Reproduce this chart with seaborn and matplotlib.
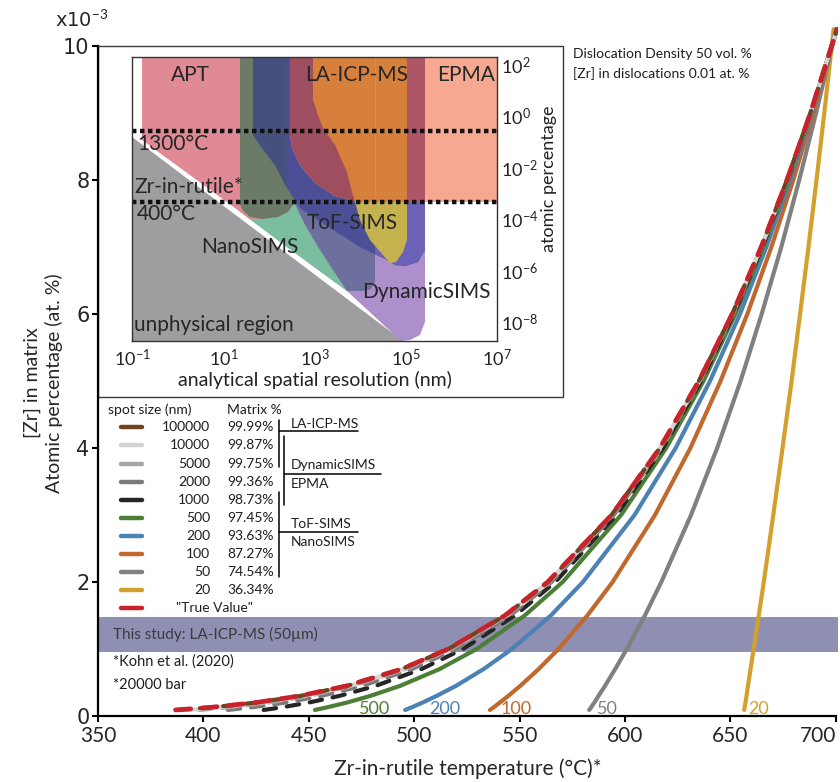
import numpy as np
import pandas as pd
import matplotlib
matplotlib.use("Agg")
import matplotlib.pyplot as plt
import seaborn as sns
from matplotlib.patches import Rectangle

sns.set_style("ticks")
plt.rcParams["font.family"] = ["Lato", "DejaVu Sans"]
plt.rcParams["mathtext.fontset"] = "custom"
plt.rcParams["mathtext.rm"] = "Lato"
plt.rcParams["mathtext.it"] = "Lato:italic"
plt.rcParams["mathtext.bf"] = "Lato:bold"

# ---------------- main chart data ----------------
zr_levels = [0.09, 0.13, 0.2, 0.3, 0.45, 0.7, 1.0, 1.5, 2.0, 3.0, 4.0, 5.0, 6.0, 7.0, 8.0, 9.0, 10.25]
t_100000 = [387.3, 404.1, 425.0, 446.0, 468.2, 494.0, 516.2, 543.1, 563.4, 593.6, 616.5, 635.0, 650.8, 664.6, 676.8, 687.9, 700.5]
t_10000 = [392.9, 408.2, 427.8, 447.9, 469.5, 494.9, 516.9, 543.5, 563.7, 593.8, 616.6, 635.2, 650.9, 664.6, 676.9, 688.0, 700.5]
t_5000 = [397.9, 412.1, 430.6, 449.8, 470.9, 495.8, 517.5, 544.0, 564.0, 594.0, 616.8, 635.3, 651.0, 664.7, 676.9, 688.0, 700.5]
t_2000 = [411.6, 423.0, 438.7, 455.9, 475.2, 498.8, 519.7, 545.5, 565.1, 594.7, 617.2, 635.6, 651.2, 664.8, 677.0, 688.0, 700.5]
t_1000 = [428.6, 437.2, 449.9, 464.5, 481.7, 503.4, 523.1, 547.8, 566.9, 595.9, 618.0, 636.1, 651.6, 665.1, 677.1, 688.1, 700.5]
t_500 = [452.9, 458.7, 468.0, 479.2, 493.3, 512.0, 529.6, 552.4, 570.4, 598.1, 619.5, 637.2, 652.3, 665.6, 677.4, 688.2, 700.5]
t_200 = [495.7, 498.8, 503.9, 510.6, 519.8, 532.9, 546.3, 564.8, 580.0, 604.5, 624.0, 640.3, 654.5, 667.0, 678.3, 688.6, 700.4]
t_100 = [535.9, 537.7, 540.6, 544.6, 550.3, 559.0, 568.4, 582.1, 594.1, 614.2, 631.0, 645.3, 658.0, 669.4, 679.8, 689.3, 700.3]
t_50 = [583.0, 583.9, 585.4, 587.4, 590.5, 595.3, 600.8, 609.4, 617.2, 631.3, 643.7, 654.8, 664.8, 674.1, 682.6, 690.6, 700.1]
t_20 = [656.5, 656.7, 657.1, 657.6, 658.3, 659.5, 661.0, 663.4, 665.8, 670.3, 674.7, 679.0, 683.0, 687.0, 690.8, 694.5, 698.9]
t_true = [386.8, 403.7, 424.7, 445.7, 468.0, 493.9, 516.1, 543.0, 563.3, 593.6, 616.5, 635.0, 650.8, 664.6, 676.8, 687.9, 700.5]

spot_sizes = ["100000", "10000", "5000", "2000", "1000", "500", "200", "100", "50", "20"]
matrix_pct = ["99.99%", "99.87%", "99.75%", "99.36%", "98.73%", "97.45%", "93.63%", "87.27%", "74.54%", "36.34%"]
spot_colors = ["#6E4420", "#D3D3D3", "#A6A6A6", "#7A7A7A", "#262626", "#4C7F35", "#4C81B3", "#C0682E", "#808080", "#D3A02D"]
spot_temps = [t_100000, t_10000, t_5000, t_2000, t_1000, t_500, t_200, t_100, t_50, t_20]
spot_dashed = [True, True, True, True, True, False, False, False, False, False]
true_color = "#C8232A"

curve_labels = ["500", "200", "100", "50", "20"]
curve_label_t = [474.0, 507.0, 541.0, 586.5, 658.5]
curve_label_colors = ["#4C7F35", "#4C81B3", "#C0682E", "#808080", "#D3A02D"]

study_band = [0.955, 1.478]
x_ticks = [350, 400, 450, 500, 550, 600, 650, 700]
y_ticks = [0, 2, 4, 6, 8, 10]

# ---------------- inset data (log10 nm, log10 at.%) ----------------
unphysical_poly = [(-1.0, -0.803), (4.94, -8.74), (-1.0, -8.74)]
dynamicsims_poly = [(2.397, 2.31), (5.422, 2.31), (5.422, -8.001), (5.312, -8.507), (5.093, -8.701), (4.896, -8.74), (3.712, -6.795), (2.397, -5.083)]
nanosims_poly = [(1.367, 2.31), (3.778, 2.31), (3.778, -6.484), (3.712, -6.795), (2.244, -4.888), (1.367, -3.721)]
grayblue_poly = [(2.397, 2.31), (4.326, 2.31), (4.326, -6.445), (4.238, -6.717), (4.041, -6.795), (3.712, -6.795), (3.449, -6.095), (3.121, -5.200), (2.792, -4.227), (2.529, -3.254), (2.397, -2.671)]
apt_poly = [(-0.781, 2.31), (2.529, 2.31), (2.529, -3.449), (2.419, -3.721), (2.200, -3.916), (1.849, -3.994), (1.586, -3.994), (0.929, -3.137), (-0.781, -0.920)]
olive_poly = [(1.367, 2.31), (2.529, 2.31), (2.529, -3.449), (2.419, -3.721), (2.200, -3.916), (1.849, -3.994), (1.586, -3.916), (1.433, -3.682), (1.367, -3.410)]
tof_poly = [(1.652, 2.31), (5.422, 2.31), (5.422, -5.200), (5.268, -5.667), (4.984, -5.822), (4.764, -5.783), (4.545, -5.550), (3.997, -5.083), (3.340, -4.344), (2.682, -3.566), (2.397, -2.787), (2.134, -1.892), (1.849, -1.231), (1.652, -0.725)]
tof_left_poly = [(1.652, 2.31), (2.397, 2.31), (2.397, -2.787), (2.134, -1.892), (1.849, -1.231), (1.652, -0.725)]
tof_right_poly = [(4.326, -3.332), (5.422, -3.332), (5.422, -5.200), (5.268, -5.667), (4.984, -5.822), (4.764, -5.783), (4.545, -5.550), (4.326, -5.355)]
epma_poly = [(2.463, 2.31), (7.0, 2.31), (7.0, -3.332), (3.932, -3.332), (3.449, -3.099), (3.011, -2.593), (2.682, -1.892), (2.507, -1.231), (2.463, -0.725)]
epma_dark_poly = [(2.463, 2.31), (5.027, 2.31), (5.027, -3.332), (3.932, -3.332), (3.449, -3.099), (3.011, -2.593), (2.682, -1.892), (2.507, -1.231), (2.463, -0.725)]
epma_mid_poly = [(5.027, 2.31), (5.422, 2.31), (5.422, -3.332), (5.027, -3.332)]
laicpms_poly = [(2.967, 2.31), (5.027, 2.31), (5.027, -3.332), (3.888, -3.332), (3.822, -2.943), (3.712, -2.165), (3.449, -1.114), (3.186, -0.453), (3.077, 0.053), (2.967, 0.637)]
laicpms_low_poly = [(3.888, -3.332), (5.027, -3.332), (5.027, -4.811), (4.940, -5.277), (4.786, -5.667), (4.655, -5.706), (4.501, -5.394), (4.216, -4.811), (3.997, -4.032)]

region_polys = [unphysical_poly, dynamicsims_poly, nanosims_poly, grayblue_poly, apt_poly, olive_poly,
                tof_poly, tof_left_poly, tof_right_poly, epma_poly, epma_dark_poly, epma_mid_poly,
                laicpms_poly, laicpms_low_poly]
region_colors = ["#9E9EA0", "#AC8FCB", "#7BBE9F", "#6D709C", "#DF8A95", "#6B7B67",
                 "#4C4F96", "#46507E", "#6B62B8", "#F6A891", "#9E4E5F", "#AE5567",
                 "#D6803B", "#C4B24F"]
temp_lines = [-0.569, -3.332]
inset_xticks = [-1, 1, 3, 5, 7]
inset_xticklabels = [r"$10^{-1}$", r"$10^{1}$", r"$10^{3}$", r"$10^{5}$", r"$10^{7}$"]
inset_yticks = [2, 0, -2, -4, -6, -8]
inset_yticklabels = [r"$10^{2}$", r"$10^{0}$", r"$10^{-2}$", r"$10^{-4}$", r"$10^{-6}$", r"$10^{-8}$"]
inset_labels = [("APT", 0.271, 1.61, "center"), ("LA-ICP-MS", 3.932, 1.61, "center"),
                ("EPMA", 6.32, 1.61, "center"), ("1300°C", -0.89, -1.075, "left"),
                ("Zr-in-rutile*", -0.95, -2.748, "left"), ("400°C", -0.89, -3.80, "left"),
                ("NanoSIMS", 1.586, -5.07, "center"), ("ToF-SIMS", 3.833, -4.16, "center"),
                ("DynamicSIMS", 5.45, -6.82, "center"), ("unphysical region", -0.95, -8.12, "left")]

# ---------------- figure ----------------
W, H = 840, 782
fig = plt.figure(figsize=(8.4, 7.82), dpi=100)
ax_l, ax_r, ax_b, ax_t = 98, 838, 716, 26
ax = fig.add_axes([ax_l / W, 1 - ax_b / H, (ax_r - ax_l) / W, (ax_b - ax_t) / H])
ax.set_xlim(350, 701)
ax.set_ylim(0, (ax_b - ax_t) / 67.0)


def apos(px, py):
    return ((px - ax_l) / (ax_r - ax_l), (ax_b - py) / (ax_b - ax_t))


ax.axhspan(study_band[0], study_band[1], color="#8F8FB3", lw=0, zorder=0.5)

order = [9, 8, 7, 6, 5, 4, 3, 2, 1, 0]
for i in order:
    ls = (0, (3.0, 2.6)) if spot_dashed[i] else "-"
    sns.lineplot(x=spot_temps[i], y=zr_levels, ax=ax, color=spot_colors[i], lw=3.0,
                 sort=False, estimator=None, linestyle=ls,
                 solid_capstyle="round", dash_capstyle="round", zorder=2)
sns.lineplot(x=t_true, y=zr_levels, ax=ax, color=true_color, lw=3.4, sort=False,
             estimator=None, linestyle=(0, (3.2, 2.4)), dash_capstyle="round", zorder=3)

for lab, tx, col in zip(curve_labels, curve_label_t, curve_label_colors):
    ax.text(tx, 0.03, lab, color=col, fontsize=13, ha="left", va="baseline", zorder=4)

sns.despine(ax=ax)
ax.spines["left"].set_bounds(0, 10)
ax.spines["bottom"].set_bounds(350, 700)
for s in ["left", "bottom"]:
    ax.spines[s].set_linewidth(1.6)
    ax.spines[s].set_color("black")
ax.set_xticks(x_ticks)
ax.set_yticks(y_ticks)
ax.tick_params(axis="both", direction="out", length=4, width=1.5, color="black")
ax.tick_params(axis="x", labelsize=15, pad=3)
ax.tick_params(axis="y", labelsize=15, pad=2)
for lbl in ax.get_yticklabels():
    lbl.set_family("DejaVu Sans")
ax.get_xticklabels()[-1].set_horizontalalignment("right")
ax.set_xlabel("Zr-in-rutile temperature (°C)*", fontsize=15, labelpad=9)
ax.set_ylabel("[Zr] in matrix\nAtomic percentage (at. %)", fontsize=14, linespacing=1.25)
ax.yaxis.set_label_coords(-0.047, 0.483)
fig.text(55 / W, 1 - 20 / H, r"x10$^{-3}$", fontsize=14, family="DejaVu Sans", va="center", ha="left")

# frame around inset
fx0, fy0 = apos(98, 397)
fx1, fy1 = apos(563, 46)
ax.add_patch(Rectangle((fx0, fy0), fx1 - fx0, fy1 - fy0, transform=ax.transAxes,
                       facecolor="white", edgecolor="#3a3a3a", lw=1.0, zorder=1, clip_on=False))

# annotation texts
txtc = "#1e1e1e"
ax.text(*apos(573, 54), "Dislocation Density 50 vol. %", transform=ax.transAxes, fontsize=10, color=txtc, va="center")
ax.text(*apos(573, 74), "[Zr] in dislocations 0.01 at. %", transform=ax.transAxes, fontsize=10, color=txtc, va="center")
ax.text(*apos(113, 634), "This study: LA-ICP-MS (50µm)", transform=ax.transAxes, fontsize=11, color="#3a3a3a", va="center")
ax.text(*apos(113, 662), "*Kohn et al. (2020)", transform=ax.transAxes, fontsize=10.5, color=txtc, va="center")
ax.text(*apos(113, 685), "*20000 bar", transform=ax.transAxes, fontsize=10.5, color=txtc, va="center")

# legend
fs_leg = 10
ax.text(*apos(108, 410), "spot size (nm)", transform=ax.transAxes, fontsize=fs_leg, color=txtc, va="center")
ax.text(*apos(227, 410), "Matrix %", transform=ax.transAxes, fontsize=fs_leg, color=txtc, va="center")
row_y0, row_dy = 427.3, 18.1
for i in range(len(spot_sizes)):
    py = row_y0 + i * row_dy
    xa, ya = apos(121, py)
    xb, _ = apos(142, py)
    ax.plot([xa, xb], [ya, ya], transform=ax.transAxes, color=spot_colors[i], lw=3.2,
            solid_capstyle="round", clip_on=False)
    ax.text(*apos(210, py), spot_sizes[i], transform=ax.transAxes, fontsize=fs_leg, color=txtc, ha="right", va="center")
    ax.text(*apos(227, py), matrix_pct[i], transform=ax.transAxes, fontsize=fs_leg, color=txtc, ha="left", va="center")
py = row_y0 + 10 * row_dy
xa, ya = apos(121, py)
xb, _ = apos(142, py)
ax.plot([xa, xb], [ya, ya], transform=ax.transAxes, color=true_color, lw=3.2, solid_capstyle="round", clip_on=False)
ax.text(*apos(176, py), '"True Value"', transform=ax.transAxes, fontsize=fs_leg, color=txtc, va="center")


def seg(x0, y0, x1, y1):
    a = apos(x0, y0)
    b = apos(x1, y1)
    ax.plot([a[0], b[0]], [a[1], b[1]], transform=ax.transAxes, color="black", lw=1.1, clip_on=False)


seg(279, 420, 279, 467)
seg(279, 430.7, 358, 430.7)
seg(284.3, 435.7, 284.3, 505)
seg(284.3, 474.3, 380.7, 474.3)
seg(279, 492.3, 279, 576.7)
seg(279, 532.3, 358, 532.3)
ax.text(*apos(290.7, 423.5), "LA-ICP-MS", transform=ax.transAxes, fontsize=fs_leg, color=txtc, va="center")
ax.text(*apos(290.7, 465), "DynamicSIMS", transform=ax.transAxes, fontsize=fs_leg, color=txtc, va="center")
ax.text(*apos(290.7, 484.3), "EPMA", transform=ax.transAxes, fontsize=fs_leg, color=txtc, va="center")
ax.text(*apos(290.7, 524), "ToF-SIMS", transform=ax.transAxes, fontsize=fs_leg, color=txtc, va="center")
ax.text(*apos(290.7, 542.3), "NanoSIMS", transform=ax.transAxes, fontsize=fs_leg, color=txtc, va="center")

# ---------------- inset ----------------
ax_in = fig.add_axes([132 / W, 1 - 341 / H, 365 / W, 284 / H], zorder=3)
ax_in.set_xlim(-1, 7)
ax_in.set_ylim(-8.74, 2.31)
ax_in.set_facecolor("white")
for poly, col in zip(region_polys, region_colors):
    xs = [p[0] for p in poly]
    ys = [p[1] for p in poly]
    ax_in.fill(xs, ys, color=col, lw=0, zorder=1)
ax_in.plot([4.326, 4.326], [2.31, -3.332], color="#DC8C4C", lw=0.8, zorder=1.5)
for yv in temp_lines:
    ax_in.axhline(yv, color="#111111", lw=3.2, ls=(0, (1.0, 0.8)), zorder=2)
for lab, lx, ly, ha in inset_labels:
    ax_in.text(lx, ly, lab, fontsize=15, color="#262626", ha=ha, va="center", zorder=3)
ax_in.set_xticks(inset_xticks)
ax_in.set_xticklabels(inset_xticklabels)
ax_in.yaxis.tick_right()
ax_in.set_yticks(inset_yticks)
ax_in.set_yticklabels(inset_yticklabels)
ax_in.tick_params(axis="both", length=0, labelsize=13, colors="#222222")
ax_in.tick_params(axis="x", pad=5)
ax_in.tick_params(axis="y", pad=3)
for s in ax_in.spines.values():
    s.set_color("#333333")
    s.set_linewidth(1.0)
ax_in.set_xlabel("analytical spatial resolution (nm)", fontsize=14, color="#222222", labelpad=1)
ax_in.text(1.142, 0.57, "atomic percentage", transform=ax_in.transAxes, rotation=90,
           fontsize=13, color="#222222", ha="center", va="center")

fig.savefig("out.png", dpi=100)
